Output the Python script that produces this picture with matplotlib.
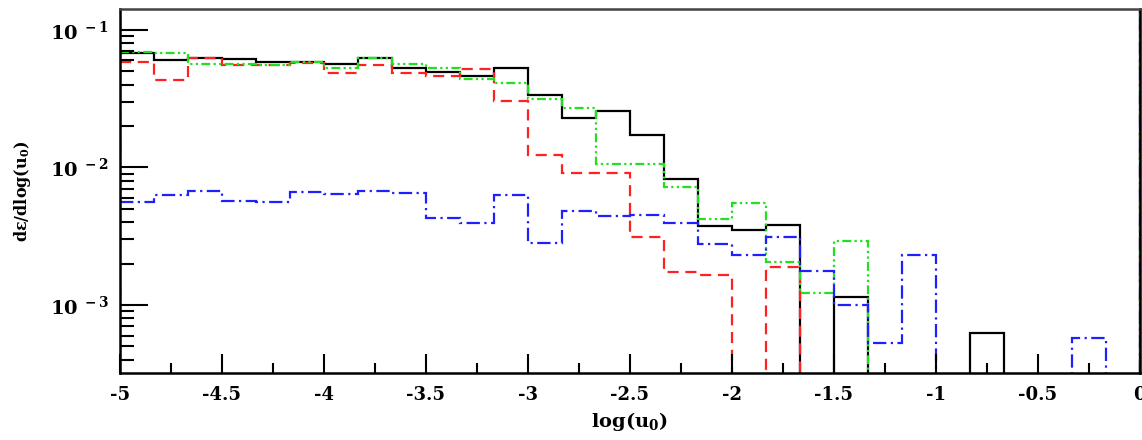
import numpy as np
import matplotlib
matplotlib.use("Agg")
import matplotlib.pyplot as plt
from matplotlib.ticker import FixedLocator, FuncFormatter, LogLocator, NullFormatter

plt.rcParams['font.family'] = ['DejaVu Serif']
plt.rcParams['mathtext.fontset'] = 'custom'
plt.rcParams['mathtext.rm'] = 'DejaVu Serif:bold'
plt.rcParams['mathtext.bf'] = 'DejaVu Serif:bold'
plt.rcParams['mathtext.it'] = 'DejaVu Serif:bold'

# 30 bins of log(u0) from -5 to 0
bin_edges = np.linspace(-5, 0, 31)

black_vals = [0.068, 0.0607, 0.0627, 0.0617, 0.0586, 0.0586, 0.0567, 0.0627, 0.0531, 0.0497,
              0.0465, 0.0531, 0.0333, 0.0230, 0.0255, 0.0171, 0.00819, 0.00373, 0.00349, 0.00380,
              0, 0.00114, 0, 0, 0, 0.000627, 0, 0, 0, 0]
red_vals = [0.0586, 0.0435, 0.0627, 0.0557, 0.0557, 0.0576, 0.0488, 0.0557, 0.0488, 0.0465,
            0.0522, 0.0306, 0.0124, 0.00905, 0.00905, 0.00311, 0.00173, 0.00165, 0, 0.00188,
            0, 0, 0, 0, 0, 0, 0, 0, 0, 0]
green_vals = [0.0693, 0.0675, 0.0567, 0.0567, 0.0557, 0.0586, 0.0531, 0.0627, 0.0567, 0.0531,
              0.0442, 0.0407, 0.0316, 0.0268, 0.0105, 0.0105, 0.00716, 0.0042, 0.00548, 0.00205,
              0.00122, 0.00291, 0, 0, 0, 0, 0, 0, 0, 0]
blue_vals = [0.00557, 0.00627, 0.0067, 0.00567, 0.00557, 0.00659, 0.00637, 0.0067, 0.00649, 0.00427,
             0.00393, 0.00627, 0.00281, 0.0048, 0.00441, 0.00449, 0.00393, 0.00277, 0.0023, 0.00311,
             0.00176, 0.001, 0.00053, 0.0023, 0, 0, 0, 0, 0.000577, 0]

fig = plt.figure(figsize=(11.42, 4.4), dpi=100)
ax = fig.add_axes([0.105, 0.152, 0.893, 0.828])

styles = [
    (black_vals, 'black', '-'),
    (red_vals, '#ff2020', (0, (5, 3))),
    (green_vals, '#20e020', (0, (4, 1.5, 1, 1.5, 1, 1.5))),
    (blue_vals, '#2020ff', (0, (6, 2, 1, 2))),
]

for vals, col, ls in styles:
    v = np.array(vals, dtype=float)
    v = np.where(v > 0, v, 1e-9)  # empty bins drop below the frame
    ax.stairs(v, bin_edges, color=col, linestyle=ls, lw=1.6, baseline=None)
    ax.axvline(0, color=col, linestyle=ls, lw=1.6)

ax.axvline(-5, color='#2020ff', linestyle=(0, (6, 2, 1, 2)), lw=1.6)

ax.set_yscale('log')
ax.set_xlim(-5, 0)
ax.set_ylim(3.2e-4, 0.142)

ax.xaxis.set_major_locator(FixedLocator(np.arange(-5, 0.01, 0.5)))
ax.xaxis.set_minor_locator(FixedLocator(np.arange(-4.75, 0, 0.5)))
ax.xaxis.set_major_formatter(FuncFormatter(lambda x, p: '%g' % x))

ax.yaxis.set_major_locator(LogLocator(base=10))
ax.yaxis.set_minor_locator(LogLocator(base=10, subs=np.arange(2, 10)))
ax.yaxis.set_minor_formatter(NullFormatter())
ax.yaxis.set_major_formatter(FuncFormatter(
    lambda y, p: r'$\mathbf{10^{\;%d}}$' % int(round(np.log10(y)))))

ax.tick_params(axis='both', which='both', direction='in', top=False, right=False,
               width=1.5, colors='black')
ax.tick_params(axis='x', which='major', length=14, pad=9, labelsize=13)
ax.tick_params(axis='x', which='minor', length=7)
ax.tick_params(axis='y', which='major', length=20, pad=8, labelsize=14)
ax.tick_params(axis='y', which='minor', length=10)
for lbl in ax.get_xticklabels():
    lbl.set_fontweight('bold')

for s in ax.spines.values():
    s.set_linewidth(1.8)
ax.spines['top'].set_color('#444444')

ax.set_xlabel(r'log(u$_{0}$)', fontsize=14, fontweight='bold')
ax.xaxis.set_label_coords(0.5, -0.10)
ax.set_ylabel(r'd$\epsilon$/dlog(u$_{0}$)', fontsize=11.5, fontweight='bold')
ax.yaxis.set_label_coords(-0.085, 0.5)

fig.savefig('out.png', dpi=100)
